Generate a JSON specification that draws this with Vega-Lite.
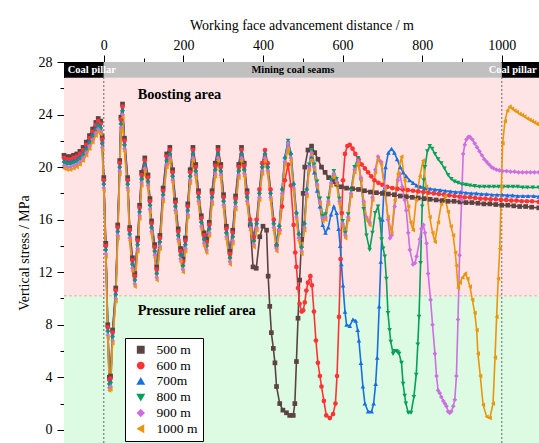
{
"$schema":"https://vega.github.io/schema/vega-lite/v6.json",
"width":475,"height":381,
"autosize":{"type":"none"},
"padding":{"left":64,"top":62,"right":0,"bottom":0},
"background":"white",
"config":{"view":{"stroke":null},"font":"Liberation Serif"},
"datasets":{"series":[
{"s":500,"x":-100,"y":20.9},{"s":500,"x":-92,"y":20.8},{"s":500,"x":-84,"y":20.8},{"s":500,"x":-76,"y":20.9},{"s":500,"x":-68,"y":21.0},{"s":500,"x":-60,"y":21.2},{"s":500,"x":-52,"y":21.5},{"s":500,"x":-44,"y":21.9},{"s":500,"x":-36,"y":22.4},{"s":500,"x":-28,"y":22.9},{"s":500,"x":-20,"y":23.4},{"s":500,"x":-14,"y":23.7},{"s":500,"x":-8,"y":23.5},{"s":500,"x":-4,"y":22.3},{"s":500,"x":0,"y":19.2},{"s":500,"x":5,"y":14.2},{"s":500,"x":10,"y":8.0},{"s":500,"x":14,"y":4.0},{"s":500,"x":17,"y":4.1},{"s":500,"x":22,"y":7.6},{"s":500,"x":30,"y":10.8},{"s":500,"x":35,"y":15.6},{"s":500,"x":40,"y":20.5},{"s":500,"x":43,"y":23.8},{"s":500,"x":47,"y":24.8},{"s":500,"x":52,"y":22.2},{"s":500,"x":60,"y":19.2},{"s":500,"x":65,"y":15.4},{"s":500,"x":72,"y":13.1},{"s":500,"x":78,"y":11.9},{"s":500,"x":85,"y":14.6},{"s":500,"x":90,"y":17.1},{"s":500,"x":95,"y":19.6},{"s":500,"x":103,"y":20.7},{"s":500,"x":111,"y":19.4},{"s":500,"x":116,"y":17.6},{"s":500,"x":120,"y":15.9},{"s":500,"x":128,"y":14.1},{"s":500,"x":133,"y":12.4},{"s":500,"x":141,"y":14.8},{"s":500,"x":149,"y":18.4},{"s":500,"x":158,"y":21.0},{"s":500,"x":166,"y":21.5},{"s":500,"x":173,"y":19.8},{"s":500,"x":180,"y":17.5},{"s":500,"x":187,"y":15.3},{"s":500,"x":193,"y":13.8},{"s":500,"x":199,"y":13.0},{"s":500,"x":205,"y":14.6},{"s":500,"x":211,"y":17.2},{"s":500,"x":217,"y":19.8},{"s":500,"x":224,"y":21.5},{"s":500,"x":231,"y":20.2},{"s":500,"x":238,"y":18.2},{"s":500,"x":245,"y":16.3},{"s":500,"x":252,"y":15.0},{"s":500,"x":258,"y":14.5},{"s":500,"x":265,"y":15.8},{"s":500,"x":272,"y":18.2},{"s":500,"x":280,"y":20.3},{"s":500,"x":287,"y":21.5},{"s":500,"x":294,"y":20.2},{"s":500,"x":301,"y":17.9},{"s":500,"x":308,"y":15.5},{"s":500,"x":317,"y":13.6},{"s":500,"x":324,"y":15.2},{"s":500,"x":331,"y":17.8},{"s":500,"x":339,"y":20.2},{"s":500,"x":346,"y":21.5},{"s":500,"x":353,"y":20.3},{"s":500,"x":360,"y":18.2},{"s":500,"x":368,"y":15.6},{"s":500,"x":375,"y":12.4},{"s":500,"x":383,"y":12.3},{"s":500,"x":392,"y":14.7},{"s":500,"x":400,"y":15.5},{"s":500,"x":409,"y":15.2},{"s":500,"x":413,"y":11.7},{"s":500,"x":417,"y":9.4},{"s":500,"x":421,"y":7.4},{"s":500,"x":426,"y":6.2},{"s":500,"x":430,"y":5.1},{"s":500,"x":434,"y":3.3},{"s":500,"x":442,"y":2.0},{"s":500,"x":450,"y":1.5},{"s":500,"x":459,"y":1.3},{"s":500,"x":467,"y":1.1},{"s":500,"x":476,"y":1.1},{"s":500,"x":480,"y":2.0},{"s":500,"x":484,"y":5.2},{"s":500,"x":488,"y":8.5},{"s":500,"x":492,"y":11.4},{"s":500,"x":497,"y":14.5},{"s":500,"x":501,"y":18.0},{"s":500,"x":505,"y":20.0},{"s":500,"x":513,"y":21.3},{"s":500,"x":522,"y":21.6},{"s":500,"x":530,"y":21.1},{"s":500,"x":538,"y":20.6},{"s":500,"x":547,"y":20.0},{"s":500,"x":556,"y":19.6},{"s":500,"x":565,"y":19.2},{"s":500,"x":575,"y":18.9},{"s":500,"x":585,"y":18.7},{"s":500,"x":597,"y":18.5},{"s":500,"x":610,"y":18.4},{"s":500,"x":625,"y":18.35},{"s":500,"x":640,"y":18.3},{"s":500,"x":655,"y":18.2},{"s":500,"x":670,"y":18.1},{"s":500,"x":685,"y":18.05},{"s":500,"x":700,"y":18.0},{"s":500,"x":715,"y":17.95},{"s":500,"x":730,"y":17.9},{"s":500,"x":745,"y":17.8},{"s":500,"x":760,"y":17.75},{"s":500,"x":775,"y":17.7},{"s":500,"x":790,"y":17.65},{"s":500,"x":805,"y":17.6},{"s":500,"x":820,"y":17.55},{"s":500,"x":835,"y":17.5},{"s":500,"x":850,"y":17.45},{"s":500,"x":865,"y":17.4},{"s":500,"x":880,"y":17.4},{"s":500,"x":895,"y":17.35},{"s":500,"x":910,"y":17.3},{"s":500,"x":925,"y":17.3},{"s":500,"x":940,"y":17.25},{"s":500,"x":955,"y":17.2},{"s":500,"x":970,"y":17.2},{"s":500,"x":985,"y":17.15},{"s":500,"x":1000,"y":17.1},{"s":500,"x":1015,"y":17.1},{"s":500,"x":1030,"y":17.05},{"s":500,"x":1045,"y":17.0},{"s":500,"x":1060,"y":17.0},{"s":500,"x":1075,"y":16.95},{"s":500,"x":1093,"y":16.9},
{"s":600,"x":-100,"y":20.7},{"s":600,"x":-92,"y":20.6},{"s":600,"x":-84,"y":20.6},{"s":600,"x":-76,"y":20.7},{"s":600,"x":-68,"y":20.8},{"s":600,"x":-60,"y":21.0},{"s":600,"x":-52,"y":21.3},{"s":600,"x":-44,"y":21.7},{"s":600,"x":-36,"y":22.2},{"s":600,"x":-28,"y":22.7},{"s":600,"x":-20,"y":23.2},{"s":600,"x":-14,"y":23.5},{"s":600,"x":-8,"y":23.3},{"s":600,"x":-4,"y":22.1},{"s":600,"x":0,"y":19.0},{"s":600,"x":5,"y":14.0},{"s":600,"x":10,"y":7.8},{"s":600,"x":14,"y":3.8},{"s":600,"x":17,"y":3.9},{"s":600,"x":22,"y":7.4},{"s":600,"x":30,"y":10.6},{"s":600,"x":35,"y":15.4},{"s":600,"x":40,"y":20.3},{"s":600,"x":43,"y":23.6},{"s":600,"x":47,"y":24.6},{"s":600,"x":52,"y":22.0},{"s":600,"x":60,"y":19.0},{"s":600,"x":65,"y":15.2},{"s":600,"x":72,"y":12.9},{"s":600,"x":78,"y":11.7},{"s":600,"x":85,"y":14.4},{"s":600,"x":90,"y":16.9},{"s":600,"x":95,"y":19.4},{"s":600,"x":103,"y":20.5},{"s":600,"x":111,"y":19.2},{"s":600,"x":116,"y":17.4},{"s":600,"x":120,"y":15.7},{"s":600,"x":128,"y":13.9},{"s":600,"x":133,"y":12.2},{"s":600,"x":141,"y":14.6},{"s":600,"x":149,"y":18.2},{"s":600,"x":158,"y":20.8},{"s":600,"x":166,"y":21.3},{"s":600,"x":173,"y":19.6},{"s":600,"x":180,"y":17.3},{"s":600,"x":187,"y":15.1},{"s":600,"x":193,"y":13.6},{"s":600,"x":199,"y":12.8},{"s":600,"x":205,"y":14.4},{"s":600,"x":211,"y":17.0},{"s":600,"x":217,"y":19.6},{"s":600,"x":224,"y":21.3},{"s":600,"x":231,"y":20.0},{"s":600,"x":238,"y":18.0},{"s":600,"x":245,"y":16.1},{"s":600,"x":252,"y":14.8},{"s":600,"x":258,"y":14.3},{"s":600,"x":265,"y":15.6},{"s":600,"x":272,"y":18.0},{"s":600,"x":280,"y":20.1},{"s":600,"x":287,"y":21.3},{"s":600,"x":294,"y":20.0},{"s":600,"x":301,"y":17.7},{"s":600,"x":308,"y":15.3},{"s":600,"x":317,"y":13.4},{"s":600,"x":324,"y":15.0},{"s":600,"x":331,"y":17.6},{"s":600,"x":339,"y":20.0},{"s":600,"x":346,"y":21.3},{"s":600,"x":353,"y":20.1},{"s":600,"x":360,"y":18.0},{"s":600,"x":368,"y":16.0},{"s":600,"x":377,"y":14.7},{"s":600,"x":384,"y":16.0},{"s":600,"x":391,"y":18.3},{"s":600,"x":398,"y":20.3},{"s":600,"x":405,"y":21.3},{"s":600,"x":412,"y":20.3},{"s":600,"x":419,"y":18.3},{"s":600,"x":427,"y":16.0},{"s":600,"x":434,"y":14.0},{"s":600,"x":441,"y":15.2},{"s":600,"x":448,"y":17.0},{"s":600,"x":455,"y":19.0},{"s":600,"x":463,"y":20.2},{"s":600,"x":470,"y":18.6},{"s":600,"x":477,"y":15.6},{"s":600,"x":481,"y":13.5},{"s":600,"x":484,"y":12.4},{"s":600,"x":488,"y":10.8},{"s":600,"x":492,"y":9.6},{"s":600,"x":497,"y":9.0},{"s":600,"x":501,"y":9.1},{"s":600,"x":505,"y":9.7},{"s":600,"x":509,"y":10.6},{"s":600,"x":513,"y":11.2},{"s":600,"x":519,"y":11.7},{"s":600,"x":523,"y":11.0},{"s":600,"x":528,"y":9.0},{"s":600,"x":533,"y":6.8},{"s":600,"x":538,"y":5.1},{"s":600,"x":543,"y":4.1},{"s":600,"x":547,"y":3.3},{"s":600,"x":553,"y":2.2},{"s":600,"x":559,"y":1.1},{"s":600,"x":568,"y":0.9},{"s":600,"x":576,"y":1.2},{"s":600,"x":582,"y":2.0},{"s":600,"x":586,"y":4.1},{"s":600,"x":591,"y":8.6},{"s":600,"x":595,"y":13.0},{"s":600,"x":598,"y":16.5},{"s":600,"x":601,"y":19.0},{"s":600,"x":606,"y":21.0},{"s":600,"x":612,"y":21.6},{"s":600,"x":618,"y":21.7},{"s":600,"x":625,"y":21.4},{"s":600,"x":632,"y":21.0},{"s":600,"x":640,"y":20.6},{"s":600,"x":648,"y":20.2},{"s":600,"x":656,"y":19.9},{"s":600,"x":664,"y":19.6},{"s":600,"x":672,"y":19.3},{"s":600,"x":680,"y":19.0},{"s":600,"x":690,"y":18.8},{"s":600,"x":700,"y":18.65},{"s":600,"x":712,"y":18.5},{"s":600,"x":725,"y":18.4},{"s":600,"x":738,"y":18.35},{"s":600,"x":751,"y":18.3},{"s":600,"x":764,"y":18.25},{"s":600,"x":777,"y":18.2},{"s":600,"x":790,"y":18.15},{"s":600,"x":803,"y":18.1},{"s":600,"x":816,"y":18.05},{"s":600,"x":829,"y":18.0},{"s":600,"x":842,"y":17.95},{"s":600,"x":855,"y":17.9},{"s":600,"x":868,"y":17.85},{"s":600,"x":881,"y":17.8},{"s":600,"x":894,"y":17.75},{"s":600,"x":907,"y":17.7},{"s":600,"x":920,"y":17.7},{"s":600,"x":933,"y":17.65},{"s":600,"x":946,"y":17.6},{"s":600,"x":959,"y":17.6},{"s":600,"x":972,"y":17.55},{"s":600,"x":985,"y":17.55},{"s":600,"x":998,"y":17.5},{"s":600,"x":1011,"y":17.5},{"s":600,"x":1024,"y":17.45},{"s":600,"x":1037,"y":17.45},{"s":600,"x":1050,"y":17.4},{"s":600,"x":1063,"y":17.4},{"s":600,"x":1076,"y":17.4},{"s":600,"x":1093,"y":17.35},
{"s":700,"x":-100,"y":20.5},{"s":700,"x":-92,"y":20.4},{"s":700,"x":-84,"y":20.4},{"s":700,"x":-76,"y":20.5},{"s":700,"x":-68,"y":20.6},{"s":700,"x":-60,"y":20.8},{"s":700,"x":-52,"y":21.1},{"s":700,"x":-44,"y":21.5},{"s":700,"x":-36,"y":22.0},{"s":700,"x":-28,"y":22.5},{"s":700,"x":-20,"y":23.0},{"s":700,"x":-14,"y":23.3},{"s":700,"x":-8,"y":23.1},{"s":700,"x":-4,"y":21.9},{"s":700,"x":0,"y":18.8},{"s":700,"x":5,"y":13.8},{"s":700,"x":10,"y":7.6},{"s":700,"x":14,"y":3.6},{"s":700,"x":17,"y":3.7},{"s":700,"x":22,"y":7.2},{"s":700,"x":30,"y":10.4},{"s":700,"x":35,"y":15.2},{"s":700,"x":40,"y":20.1},{"s":700,"x":43,"y":23.4},{"s":700,"x":47,"y":24.4},{"s":700,"x":52,"y":21.8},{"s":700,"x":60,"y":18.8},{"s":700,"x":65,"y":15.0},{"s":700,"x":72,"y":12.7},{"s":700,"x":78,"y":11.5},{"s":700,"x":85,"y":14.2},{"s":700,"x":90,"y":16.7},{"s":700,"x":95,"y":19.2},{"s":700,"x":103,"y":20.3},{"s":700,"x":111,"y":19.0},{"s":700,"x":116,"y":17.2},{"s":700,"x":120,"y":15.5},{"s":700,"x":128,"y":13.7},{"s":700,"x":133,"y":12.0},{"s":700,"x":141,"y":14.4},{"s":700,"x":149,"y":18.0},{"s":700,"x":158,"y":20.6},{"s":700,"x":166,"y":21.1},{"s":700,"x":173,"y":19.4},{"s":700,"x":180,"y":17.1},{"s":700,"x":187,"y":14.9},{"s":700,"x":193,"y":13.4},{"s":700,"x":199,"y":12.6},{"s":700,"x":205,"y":14.2},{"s":700,"x":211,"y":16.8},{"s":700,"x":217,"y":19.4},{"s":700,"x":224,"y":21.1},{"s":700,"x":231,"y":19.8},{"s":700,"x":238,"y":17.8},{"s":700,"x":245,"y":15.9},{"s":700,"x":252,"y":14.6},{"s":700,"x":258,"y":14.1},{"s":700,"x":265,"y":15.4},{"s":700,"x":272,"y":17.8},{"s":700,"x":280,"y":19.9},{"s":700,"x":287,"y":21.1},{"s":700,"x":294,"y":19.8},{"s":700,"x":301,"y":17.5},{"s":700,"x":308,"y":15.1},{"s":700,"x":317,"y":13.2},{"s":700,"x":324,"y":14.8},{"s":700,"x":331,"y":17.4},{"s":700,"x":339,"y":19.8},{"s":700,"x":346,"y":21.1},{"s":700,"x":353,"y":19.9},{"s":700,"x":360,"y":17.8},{"s":700,"x":368,"y":15.8},{"s":700,"x":377,"y":14.5},{"s":700,"x":384,"y":15.8},{"s":700,"x":391,"y":18.1},{"s":700,"x":398,"y":20.1},{"s":700,"x":405,"y":21.1},{"s":700,"x":412,"y":20.1},{"s":700,"x":419,"y":18.1},{"s":700,"x":427,"y":15.8},{"s":700,"x":434,"y":14.2},{"s":700,"x":441,"y":15.6},{"s":700,"x":448,"y":18.4},{"s":700,"x":455,"y":20.8},{"s":700,"x":463,"y":22.0},{"s":700,"x":470,"y":21.1},{"s":700,"x":477,"y":18.8},{"s":700,"x":484,"y":16.6},{"s":700,"x":490,"y":15.0},{"s":700,"x":497,"y":14.0},{"s":700,"x":504,"y":15.8},{"s":700,"x":510,"y":18.4},{"s":700,"x":516,"y":20.2},{"s":700,"x":522,"y":20.8},{"s":700,"x":529,"y":19.6},{"s":700,"x":536,"y":18.2},{"s":700,"x":543,"y":17.0},{"s":700,"x":550,"y":15.6},{"s":700,"x":557,"y":15.0},{"s":700,"x":564,"y":15.4},{"s":700,"x":571,"y":16.4},{"s":700,"x":578,"y":17.0},{"s":700,"x":585,"y":16.5},{"s":700,"x":590,"y":15.3},{"s":700,"x":594,"y":14.0},{"s":700,"x":597,"y":12.6},{"s":700,"x":601,"y":11.0},{"s":700,"x":606,"y":9.0},{"s":700,"x":610,"y":8.0},{"s":700,"x":618,"y":7.9},{"s":700,"x":626,"y":8.4},{"s":700,"x":633,"y":8.3},{"s":700,"x":638,"y":7.6},{"s":700,"x":641,"y":6.8},{"s":700,"x":646,"y":5.1},{"s":700,"x":651,"y":3.3},{"s":700,"x":656,"y":2.0},{"s":700,"x":664,"y":1.4},{"s":700,"x":673,"y":1.4},{"s":700,"x":678,"y":2.0},{"s":700,"x":683,"y":3.5},{"s":700,"x":687,"y":5.5},{"s":700,"x":692,"y":9.4},{"s":700,"x":696,"y":12.8},{"s":700,"x":700,"y":16.0},{"s":700,"x":704,"y":18.3},{"s":700,"x":708,"y":20.0},{"s":700,"x":715,"y":21.1},{"s":700,"x":723,"y":21.4},{"s":700,"x":730,"y":21.1},{"s":700,"x":737,"y":20.6},{"s":700,"x":745,"y":20.0},{"s":700,"x":752,"y":19.6},{"s":700,"x":760,"y":19.3},{"s":700,"x":768,"y":19.0},{"s":700,"x":777,"y":18.8},{"s":700,"x":786,"y":18.6},{"s":700,"x":796,"y":18.5},{"s":700,"x":808,"y":18.4},{"s":700,"x":820,"y":18.35},{"s":700,"x":832,"y":18.3},{"s":700,"x":845,"y":18.25},{"s":700,"x":858,"y":18.2},{"s":700,"x":871,"y":18.15},{"s":700,"x":884,"y":18.1},{"s":700,"x":897,"y":18.1},{"s":700,"x":910,"y":18.05},{"s":700,"x":923,"y":18.0},{"s":700,"x":936,"y":18.0},{"s":700,"x":949,"y":17.95},{"s":700,"x":962,"y":17.95},{"s":700,"x":975,"y":17.9},{"s":700,"x":988,"y":17.9},{"s":700,"x":1001,"y":17.9},{"s":700,"x":1014,"y":17.85},{"s":700,"x":1027,"y":17.85},{"s":700,"x":1040,"y":17.8},{"s":700,"x":1053,"y":17.8},{"s":700,"x":1066,"y":17.8},{"s":700,"x":1080,"y":17.8},{"s":700,"x":1093,"y":17.75},
{"s":800,"x":-100,"y":20.3},{"s":800,"x":-92,"y":20.2},{"s":800,"x":-84,"y":20.2},{"s":800,"x":-76,"y":20.3},{"s":800,"x":-68,"y":20.4},{"s":800,"x":-60,"y":20.6},{"s":800,"x":-52,"y":20.9},{"s":800,"x":-44,"y":21.3},{"s":800,"x":-36,"y":21.8},{"s":800,"x":-28,"y":22.3},{"s":800,"x":-20,"y":22.8},{"s":800,"x":-14,"y":23.1},{"s":800,"x":-8,"y":22.9},{"s":800,"x":-4,"y":21.7},{"s":800,"x":0,"y":18.6},{"s":800,"x":5,"y":13.6},{"s":800,"x":10,"y":7.4},{"s":800,"x":14,"y":3.4},{"s":800,"x":17,"y":3.5},{"s":800,"x":22,"y":7.0},{"s":800,"x":30,"y":10.2},{"s":800,"x":35,"y":15.0},{"s":800,"x":40,"y":19.9},{"s":800,"x":43,"y":23.2},{"s":800,"x":47,"y":24.2},{"s":800,"x":52,"y":21.6},{"s":800,"x":60,"y":18.6},{"s":800,"x":65,"y":14.8},{"s":800,"x":72,"y":12.5},{"s":800,"x":78,"y":11.3},{"s":800,"x":85,"y":14.0},{"s":800,"x":90,"y":16.5},{"s":800,"x":95,"y":19.0},{"s":800,"x":103,"y":20.1},{"s":800,"x":111,"y":18.8},{"s":800,"x":116,"y":17.0},{"s":800,"x":120,"y":15.3},{"s":800,"x":128,"y":13.5},{"s":800,"x":133,"y":11.8},{"s":800,"x":141,"y":14.2},{"s":800,"x":149,"y":17.8},{"s":800,"x":158,"y":20.4},{"s":800,"x":166,"y":20.9},{"s":800,"x":173,"y":19.2},{"s":800,"x":180,"y":16.9},{"s":800,"x":187,"y":14.7},{"s":800,"x":193,"y":13.2},{"s":800,"x":199,"y":12.4},{"s":800,"x":205,"y":14.0},{"s":800,"x":211,"y":16.6},{"s":800,"x":217,"y":19.2},{"s":800,"x":224,"y":20.9},{"s":800,"x":231,"y":19.6},{"s":800,"x":238,"y":17.6},{"s":800,"x":245,"y":15.7},{"s":800,"x":252,"y":14.4},{"s":800,"x":258,"y":13.9},{"s":800,"x":265,"y":15.2},{"s":800,"x":272,"y":17.6},{"s":800,"x":280,"y":19.7},{"s":800,"x":287,"y":20.9},{"s":800,"x":294,"y":19.6},{"s":800,"x":301,"y":17.3},{"s":800,"x":308,"y":14.9},{"s":800,"x":317,"y":13.0},{"s":800,"x":324,"y":14.6},{"s":800,"x":331,"y":17.2},{"s":800,"x":339,"y":19.6},{"s":800,"x":346,"y":20.9},{"s":800,"x":353,"y":19.7},{"s":800,"x":360,"y":17.6},{"s":800,"x":368,"y":15.6},{"s":800,"x":377,"y":14.3},{"s":800,"x":384,"y":15.6},{"s":800,"x":391,"y":17.9},{"s":800,"x":398,"y":19.9},{"s":800,"x":405,"y":20.9},{"s":800,"x":412,"y":19.9},{"s":800,"x":419,"y":17.9},{"s":800,"x":427,"y":15.6},{"s":800,"x":434,"y":14.0},{"s":800,"x":441,"y":15.4},{"s":800,"x":448,"y":18.2},{"s":800,"x":455,"y":20.6},{"s":800,"x":463,"y":22.0},{"s":800,"x":470,"y":20.9},{"s":800,"x":477,"y":18.6},{"s":800,"x":484,"y":16.4},{"s":800,"x":490,"y":14.8},{"s":800,"x":497,"y":13.8},{"s":800,"x":504,"y":15.6},{"s":800,"x":510,"y":18.2},{"s":800,"x":516,"y":20.2},{"s":800,"x":522,"y":21.3},{"s":800,"x":529,"y":20.2},{"s":800,"x":536,"y":18.9},{"s":800,"x":543,"y":17.6},{"s":800,"x":550,"y":16.3},{"s":800,"x":557,"y":16.4},{"s":800,"x":564,"y":17.6},{"s":800,"x":571,"y":19.0},{"s":800,"x":578,"y":19.7},{"s":800,"x":585,"y":19.1},{"s":800,"x":592,"y":17.6},{"s":800,"x":600,"y":15.9},{"s":800,"x":607,"y":15.0},{"s":800,"x":614,"y":16.4},{"s":800,"x":621,"y":18.2},{"s":800,"x":630,"y":20.0},{"s":800,"x":639,"y":20.7},{"s":800,"x":646,"y":19.0},{"s":800,"x":653,"y":16.8},{"s":800,"x":660,"y":14.8},{"s":800,"x":668,"y":13.7},{"s":800,"x":675,"y":15.0},{"s":800,"x":682,"y":16.5},{"s":800,"x":689,"y":17.0},{"s":800,"x":694,"y":16.0},{"s":800,"x":698,"y":14.5},{"s":800,"x":702,"y":13.8},{"s":800,"x":706,"y":13.2},{"s":800,"x":710,"y":11.5},{"s":800,"x":714,"y":8.9},{"s":800,"x":718,"y":7.6},{"s":800,"x":721,"y":6.7},{"s":800,"x":727,"y":5.8},{"s":800,"x":731,"y":6.0},{"s":800,"x":735,"y":6.0},{"s":800,"x":739,"y":5.9},{"s":800,"x":742,"y":5.8},{"s":800,"x":748,"y":5.1},{"s":800,"x":752,"y":3.5},{"s":800,"x":756,"y":2.6},{"s":800,"x":759,"y":2.0},{"s":800,"x":765,"y":1.3},{"s":800,"x":772,"y":1.3},{"s":800,"x":779,"y":2.5},{"s":800,"x":785,"y":4.2},{"s":800,"x":789,"y":6.5},{"s":800,"x":792,"y":8.6},{"s":800,"x":796,"y":12.7},{"s":800,"x":800,"y":17.0},{"s":800,"x":804,"y":19.0},{"s":800,"x":807,"y":20.0},{"s":800,"x":813,"y":21.2},{"s":800,"x":819,"y":21.6},{"s":800,"x":825,"y":21.4},{"s":800,"x":832,"y":21.0},{"s":800,"x":840,"y":20.6},{"s":800,"x":848,"y":20.3},{"s":800,"x":856,"y":19.9},{"s":800,"x":865,"y":19.4},{"s":800,"x":873,"y":19.1},{"s":800,"x":881,"y":18.9},{"s":800,"x":890,"y":18.8},{"s":800,"x":900,"y":18.7},{"s":800,"x":910,"y":18.65},{"s":800,"x":920,"y":18.6},{"s":800,"x":932,"y":18.55},{"s":800,"x":944,"y":18.5},{"s":800,"x":956,"y":18.5},{"s":800,"x":968,"y":18.5},{"s":800,"x":980,"y":18.5},{"s":800,"x":992,"y":18.5},{"s":800,"x":1004,"y":18.5},{"s":800,"x":1016,"y":18.5},{"s":800,"x":1028,"y":18.5},{"s":800,"x":1040,"y":18.5},{"s":800,"x":1052,"y":18.45},{"s":800,"x":1064,"y":18.45},{"s":800,"x":1078,"y":18.45},{"s":800,"x":1093,"y":18.45},
{"s":900,"x":-100,"y":20.1},{"s":900,"x":-92,"y":20.0},{"s":900,"x":-84,"y":20.0},{"s":900,"x":-76,"y":20.1},{"s":900,"x":-68,"y":20.2},{"s":900,"x":-60,"y":20.4},{"s":900,"x":-52,"y":20.7},{"s":900,"x":-44,"y":21.1},{"s":900,"x":-36,"y":21.6},{"s":900,"x":-28,"y":22.1},{"s":900,"x":-20,"y":22.6},{"s":900,"x":-14,"y":22.9},{"s":900,"x":-8,"y":22.7},{"s":900,"x":-4,"y":21.5},{"s":900,"x":0,"y":18.4},{"s":900,"x":5,"y":13.4},{"s":900,"x":10,"y":7.2},{"s":900,"x":14,"y":3.2},{"s":900,"x":17,"y":3.3},{"s":900,"x":22,"y":6.8},{"s":900,"x":30,"y":10.0},{"s":900,"x":35,"y":14.8},{"s":900,"x":40,"y":19.7},{"s":900,"x":43,"y":23.0},{"s":900,"x":47,"y":24.0},{"s":900,"x":52,"y":21.4},{"s":900,"x":60,"y":18.4},{"s":900,"x":65,"y":14.6},{"s":900,"x":72,"y":12.3},{"s":900,"x":78,"y":11.1},{"s":900,"x":85,"y":13.8},{"s":900,"x":90,"y":16.3},{"s":900,"x":95,"y":18.8},{"s":900,"x":103,"y":19.9},{"s":900,"x":111,"y":18.6},{"s":900,"x":116,"y":16.8},{"s":900,"x":120,"y":15.1},{"s":900,"x":128,"y":13.3},{"s":900,"x":133,"y":11.6},{"s":900,"x":141,"y":14.0},{"s":900,"x":149,"y":17.6},{"s":900,"x":158,"y":20.2},{"s":900,"x":166,"y":20.7},{"s":900,"x":173,"y":19.0},{"s":900,"x":180,"y":16.7},{"s":900,"x":187,"y":14.5},{"s":900,"x":193,"y":13.0},{"s":900,"x":199,"y":12.2},{"s":900,"x":205,"y":13.8},{"s":900,"x":211,"y":16.4},{"s":900,"x":217,"y":19.0},{"s":900,"x":224,"y":20.7},{"s":900,"x":231,"y":19.4},{"s":900,"x":238,"y":17.4},{"s":900,"x":245,"y":15.5},{"s":900,"x":252,"y":14.2},{"s":900,"x":258,"y":13.7},{"s":900,"x":265,"y":15.0},{"s":900,"x":272,"y":17.4},{"s":900,"x":280,"y":19.5},{"s":900,"x":287,"y":20.7},{"s":900,"x":294,"y":19.4},{"s":900,"x":301,"y":17.1},{"s":900,"x":308,"y":14.7},{"s":900,"x":317,"y":12.8},{"s":900,"x":324,"y":14.4},{"s":900,"x":331,"y":17.0},{"s":900,"x":339,"y":19.4},{"s":900,"x":346,"y":20.7},{"s":900,"x":353,"y":19.5},{"s":900,"x":360,"y":17.4},{"s":900,"x":368,"y":15.4},{"s":900,"x":377,"y":14.1},{"s":900,"x":384,"y":15.4},{"s":900,"x":391,"y":17.7},{"s":900,"x":398,"y":19.7},{"s":900,"x":405,"y":20.7},{"s":900,"x":412,"y":19.7},{"s":900,"x":419,"y":17.7},{"s":900,"x":427,"y":15.4},{"s":900,"x":434,"y":13.8},{"s":900,"x":441,"y":15.2},{"s":900,"x":448,"y":18.0},{"s":900,"x":455,"y":20.4},{"s":900,"x":463,"y":21.8},{"s":900,"x":470,"y":20.7},{"s":900,"x":477,"y":18.4},{"s":900,"x":484,"y":16.2},{"s":900,"x":490,"y":14.6},{"s":900,"x":497,"y":13.6},{"s":900,"x":504,"y":15.4},{"s":900,"x":510,"y":18.0},{"s":900,"x":516,"y":20.0},{"s":900,"x":522,"y":21.1},{"s":900,"x":529,"y":20.0},{"s":900,"x":536,"y":18.7},{"s":900,"x":543,"y":17.4},{"s":900,"x":550,"y":16.1},{"s":900,"x":557,"y":16.2},{"s":900,"x":564,"y":17.4},{"s":900,"x":571,"y":18.8},{"s":900,"x":578,"y":19.5},{"s":900,"x":585,"y":18.9},{"s":900,"x":592,"y":17.4},{"s":900,"x":600,"y":15.7},{"s":900,"x":607,"y":14.8},{"s":900,"x":614,"y":16.2},{"s":900,"x":621,"y":18.0},{"s":900,"x":630,"y":19.8},{"s":900,"x":639,"y":20.5},{"s":900,"x":646,"y":19.2},{"s":900,"x":653,"y":17.4},{"s":900,"x":660,"y":16.2},{"s":900,"x":668,"y":15.8},{"s":900,"x":675,"y":17.7},{"s":900,"x":682,"y":19.8},{"s":900,"x":689,"y":20.8},{"s":900,"x":697,"y":20.4},{"s":900,"x":706,"y":18.5},{"s":900,"x":714,"y":16.0},{"s":900,"x":719,"y":14.6},{"s":900,"x":723,"y":14.8},{"s":900,"x":731,"y":17.0},{"s":900,"x":739,"y":19.0},{"s":900,"x":744,"y":19.5},{"s":900,"x":750,"y":18.5},{"s":900,"x":756,"y":17.5},{"s":900,"x":760,"y":16.7},{"s":900,"x":765,"y":15.0},{"s":900,"x":769,"y":13.7},{"s":900,"x":777,"y":12.6},{"s":900,"x":782,"y":12.7},{"s":900,"x":786,"y":13.2},{"s":900,"x":794,"y":14.5},{"s":900,"x":798,"y":15.3},{"s":900,"x":803,"y":15.6},{"s":900,"x":807,"y":15.0},{"s":900,"x":811,"y":14.2},{"s":900,"x":815,"y":11.9},{"s":900,"x":821,"y":9.9},{"s":900,"x":826,"y":8.0},{"s":900,"x":832,"y":5.8},{"s":900,"x":836,"y":4.1},{"s":900,"x":840,"y":3.0},{"s":900,"x":844,"y":2.8},{"s":900,"x":848,"y":2.5},{"s":900,"x":853,"y":2.2},{"s":900,"x":857,"y":2.0},{"s":900,"x":861,"y":1.8},{"s":900,"x":865,"y":1.4},{"s":900,"x":869,"y":1.3},{"s":900,"x":873,"y":1.4},{"s":900,"x":878,"y":1.8},{"s":900,"x":882,"y":2.3},{"s":900,"x":886,"y":4.1},{"s":900,"x":890,"y":8.4},{"s":900,"x":894,"y":13.3},{"s":900,"x":899,"y":17.5},{"s":900,"x":903,"y":21.0},{"s":900,"x":907,"y":21.7},{"s":900,"x":911,"y":22.1},{"s":900,"x":916,"y":22.3},{"s":900,"x":920,"y":22.3},{"s":900,"x":926,"y":22.1},{"s":900,"x":932,"y":21.8},{"s":900,"x":938,"y":21.5},{"s":900,"x":944,"y":21.2},{"s":900,"x":950,"y":20.9},{"s":900,"x":956,"y":20.6},{"s":900,"x":962,"y":20.4},{"s":900,"x":968,"y":20.2},{"s":900,"x":974,"y":20.0},{"s":900,"x":980,"y":19.9},{"s":900,"x":987,"y":19.8},{"s":900,"x":994,"y":19.75},{"s":900,"x":1002,"y":19.7},{"s":900,"x":1012,"y":19.7},{"s":900,"x":1022,"y":19.65},{"s":900,"x":1032,"y":19.65},{"s":900,"x":1042,"y":19.6},{"s":900,"x":1052,"y":19.6},{"s":900,"x":1062,"y":19.6},{"s":900,"x":1072,"y":19.6},{"s":900,"x":1082,"y":19.6},{"s":900,"x":1093,"y":19.6},
{"s":1000,"x":-100,"y":19.9},{"s":1000,"x":-92,"y":19.8},{"s":1000,"x":-84,"y":19.8},{"s":1000,"x":-76,"y":19.9},{"s":1000,"x":-68,"y":20.0},{"s":1000,"x":-60,"y":20.2},{"s":1000,"x":-52,"y":20.5},{"s":1000,"x":-44,"y":20.9},{"s":1000,"x":-36,"y":21.4},{"s":1000,"x":-28,"y":21.9},{"s":1000,"x":-20,"y":22.4},{"s":1000,"x":-14,"y":22.7},{"s":1000,"x":-8,"y":22.5},{"s":1000,"x":-4,"y":21.3},{"s":1000,"x":0,"y":18.2},{"s":1000,"x":5,"y":13.2},{"s":1000,"x":10,"y":7.0},{"s":1000,"x":14,"y":3.0},{"s":1000,"x":17,"y":3.1},{"s":1000,"x":22,"y":6.6},{"s":1000,"x":30,"y":9.8},{"s":1000,"x":35,"y":14.6},{"s":1000,"x":40,"y":19.5},{"s":1000,"x":43,"y":22.8},{"s":1000,"x":47,"y":23.8},{"s":1000,"x":52,"y":21.2},{"s":1000,"x":60,"y":18.2},{"s":1000,"x":65,"y":14.4},{"s":1000,"x":72,"y":12.1},{"s":1000,"x":78,"y":10.9},{"s":1000,"x":85,"y":13.6},{"s":1000,"x":90,"y":16.1},{"s":1000,"x":95,"y":18.6},{"s":1000,"x":103,"y":19.7},{"s":1000,"x":111,"y":18.4},{"s":1000,"x":116,"y":16.6},{"s":1000,"x":120,"y":14.9},{"s":1000,"x":128,"y":13.1},{"s":1000,"x":133,"y":11.4},{"s":1000,"x":141,"y":13.8},{"s":1000,"x":149,"y":17.4},{"s":1000,"x":158,"y":20.0},{"s":1000,"x":166,"y":20.5},{"s":1000,"x":173,"y":18.8},{"s":1000,"x":180,"y":16.5},{"s":1000,"x":187,"y":14.3},{"s":1000,"x":193,"y":12.8},{"s":1000,"x":199,"y":12.0},{"s":1000,"x":205,"y":13.6},{"s":1000,"x":211,"y":16.2},{"s":1000,"x":217,"y":18.8},{"s":1000,"x":224,"y":20.5},{"s":1000,"x":231,"y":19.2},{"s":1000,"x":238,"y":17.2},{"s":1000,"x":245,"y":15.3},{"s":1000,"x":252,"y":14.0},{"s":1000,"x":258,"y":13.5},{"s":1000,"x":265,"y":14.8},{"s":1000,"x":272,"y":17.2},{"s":1000,"x":280,"y":19.3},{"s":1000,"x":287,"y":20.5},{"s":1000,"x":294,"y":19.2},{"s":1000,"x":301,"y":16.9},{"s":1000,"x":308,"y":14.5},{"s":1000,"x":317,"y":12.6},{"s":1000,"x":324,"y":14.2},{"s":1000,"x":331,"y":16.8},{"s":1000,"x":339,"y":19.2},{"s":1000,"x":346,"y":20.5},{"s":1000,"x":353,"y":19.3},{"s":1000,"x":360,"y":17.2},{"s":1000,"x":368,"y":15.2},{"s":1000,"x":377,"y":13.9},{"s":1000,"x":384,"y":15.2},{"s":1000,"x":391,"y":17.5},{"s":1000,"x":398,"y":19.5},{"s":1000,"x":405,"y":20.5},{"s":1000,"x":412,"y":19.5},{"s":1000,"x":419,"y":17.5},{"s":1000,"x":427,"y":15.2},{"s":1000,"x":434,"y":13.6},{"s":1000,"x":441,"y":15.0},{"s":1000,"x":448,"y":17.8},{"s":1000,"x":455,"y":20.2},{"s":1000,"x":463,"y":21.4},{"s":1000,"x":470,"y":20.5},{"s":1000,"x":477,"y":18.2},{"s":1000,"x":484,"y":16.0},{"s":1000,"x":490,"y":14.4},{"s":1000,"x":497,"y":13.4},{"s":1000,"x":504,"y":15.2},{"s":1000,"x":510,"y":17.8},{"s":1000,"x":516,"y":19.8},{"s":1000,"x":522,"y":20.9},{"s":1000,"x":529,"y":19.8},{"s":1000,"x":536,"y":18.5},{"s":1000,"x":543,"y":17.2},{"s":1000,"x":550,"y":15.9},{"s":1000,"x":557,"y":16.0},{"s":1000,"x":564,"y":17.2},{"s":1000,"x":571,"y":18.6},{"s":1000,"x":578,"y":19.3},{"s":1000,"x":585,"y":18.7},{"s":1000,"x":592,"y":17.2},{"s":1000,"x":600,"y":15.5},{"s":1000,"x":607,"y":14.6},{"s":1000,"x":614,"y":16.0},{"s":1000,"x":621,"y":17.8},{"s":1000,"x":630,"y":19.6},{"s":1000,"x":639,"y":20.3},{"s":1000,"x":646,"y":19.0},{"s":1000,"x":653,"y":17.2},{"s":1000,"x":660,"y":16.0},{"s":1000,"x":668,"y":15.6},{"s":1000,"x":675,"y":17.5},{"s":1000,"x":682,"y":19.6},{"s":1000,"x":689,"y":20.6},{"s":1000,"x":697,"y":20.2},{"s":1000,"x":706,"y":18.3},{"s":1000,"x":714,"y":16.2},{"s":1000,"x":723,"y":15.0},{"s":1000,"x":731,"y":17.5},{"s":1000,"x":739,"y":19.5},{"s":1000,"x":748,"y":20.8},{"s":1000,"x":756,"y":19.0},{"s":1000,"x":765,"y":17.0},{"s":1000,"x":771,"y":15.8},{"s":1000,"x":777,"y":15.2},{"s":1000,"x":785,"y":17.5},{"s":1000,"x":794,"y":19.3},{"s":1000,"x":802,"y":20.5},{"s":1000,"x":810,"y":18.5},{"s":1000,"x":819,"y":16.2},{"s":1000,"x":826,"y":15.0},{"s":1000,"x":832,"y":14.3},{"s":1000,"x":840,"y":15.8},{"s":1000,"x":848,"y":17.2},{"s":1000,"x":857,"y":17.8},{"s":1000,"x":865,"y":16.6},{"s":1000,"x":872,"y":15.5},{"s":1000,"x":878,"y":14.8},{"s":1000,"x":883,"y":13.5},{"s":1000,"x":886,"y":12.5},{"s":1000,"x":890,"y":10.8},{"s":1000,"x":895,"y":11.2},{"s":1000,"x":901,"y":11.6},{"s":1000,"x":908,"y":11.9},{"s":1000,"x":914,"y":11.5},{"s":1000,"x":920,"y":10.9},{"s":1000,"x":926,"y":9.9},{"s":1000,"x":932,"y":8.9},{"s":1000,"x":937,"y":7.6},{"s":1000,"x":940,"y":5.8},{"s":1000,"x":946,"y":4.1},{"s":1000,"x":953,"y":1.9},{"s":1000,"x":962,"y":1.0},{"s":1000,"x":970,"y":0.9},{"s":1000,"x":978,"y":2.0},{"s":1000,"x":983,"y":5.5},{"s":1000,"x":987,"y":8.6},{"s":1000,"x":991,"y":11.5},{"s":1000,"x":995,"y":13.8},{"s":1000,"x":999,"y":18.5},{"s":1000,"x":1002,"y":21.8},{"s":1000,"x":1008,"y":23.5},{"s":1000,"x":1014,"y":24.3},{"s":1000,"x":1020,"y":24.6},{"s":1000,"x":1026,"y":24.45},{"s":1000,"x":1032,"y":24.3},{"s":1000,"x":1038,"y":24.2},{"s":1000,"x":1045,"y":24.05},{"s":1000,"x":1051,"y":23.95},{"s":1000,"x":1057,"y":23.85},{"s":1000,"x":1064,"y":23.7},{"s":1000,"x":1070,"y":23.6},{"s":1000,"x":1076,"y":23.5},{"s":1000,"x":1082,"y":23.4},{"s":1000,"x":1088,"y":23.3},{"s":1000,"x":1093,"y":23.2}
]},
"layer":[
{"data":{"values":[
{"x":-100,"xe":1093.5,"y":10.2,"ye":26.8,"z":"boost"},
{"x":-100,"xe":1093.5,"y":-1,"ye":10.2,"z":"relief"},
{"x":-100,"xe":0,"y":26.8,"ye":28,"z":"pillar"},
{"x":0,"xe":1000,"y":26.8,"ye":28,"z":"seam"},
{"x":1000,"xe":1093.5,"y":26.8,"ye":28,"z":"pillar"}]},
"mark":{"type":"rect"},
"encoding":{
"x":{"field":"x","type":"quantitative","scale":{"domain":[-100,1093.5],"nice":false,"zero":false},
"axis":{"orient":"top","values":[0,200,400,600,800,1000],"format":"d","title":"Working face advancement distance / m","grid":false,"domainColor":"black","tickColor":"black","tickSize":7,"labelFont":"Liberation Serif","labelFontSize":14,"labelColor":"black","labelPadding":3,"titleFont":"Liberation Serif","titleFontSize":14,"titleFontWeight":"normal","titleColor":"black","titlePadding":6,"labelFlush":false}},
"x2":{"field":"xe"},
"y":{"field":"y","type":"quantitative","scale":{"domain":[-1,28],"nice":false,"zero":false},
"axis":{"orient":"left","values":[0,4,8,12,16,20,24,28],"format":"d","title":"Vertical stress / MPa","grid":false,"domainColor":"black","tickColor":"black","tickSize":7,"labelFont":"Liberation Serif","labelFontSize":14,"labelColor":"black","labelPadding":5,"titleFont":"Liberation Serif","titleFontSize":14,"titleFontWeight":"normal","titleColor":"black","titlePadding":7,"labelFlush":false}},
"y2":{"field":"ye"},
"fill":{"field":"z","type":"nominal","scale":{"domain":["boost","relief","pillar","seam"],"range":["#fee4e4","#dcfbe2","#000000","#c0c0c0"]},"legend":null}
}},
{"data":{"values":[{"x":0,"y":-1,"ye":26.8},{"x":1000,"y":-1,"ye":26.8}]},
"mark":{"type":"rule","color":"#666666","strokeDash":[2,2],"strokeWidth":1},
"encoding":{
"x":{"field":"x","type":"quantitative","scale":{"domain":[-100,1093.5],"nice":false,"zero":false},
"axis":{"orient":"top","values":[100,300,500,700,900],"labels":false,"domain":false,"title":null,"grid":false,"tickColor":"black","tickSize":4}},
"y":{"field":"y","type":"quantitative","scale":{"domain":[-1,28],"nice":false,"zero":false},
"axis":{"orient":"left","values":[2,6,10,14,18,22,26],"labels":false,"domain":false,"title":null,"grid":false,"tickColor":"black","tickSize":4}},
"y2":{"field":"ye"}
}},
{"data":{"values":[{"x":-100,"xe":1093.5,"y":10.2}]},
"mark":{"type":"rule","color":"#f3a99c","strokeDash":[3,2],"strokeWidth":1},
"encoding":{
"x":{"field":"x","type":"quantitative","scale":{"domain":[-100,1093.5],"nice":false,"zero":false},"axis":null},
"x2":{"field":"xe"},
"y":{"field":"y","type":"quantitative","scale":{"domain":[-1,28],"nice":false,"zero":false},"axis":null}
}},
{"data":{"name":"series"},
"mark":{"type":"line","strokeWidth":1.6},
"encoding":{
"x":{"field":"x","type":"quantitative","scale":{"domain":[-100,1093.5],"nice":false,"zero":false},"axis":null},
"y":{"field":"y","type":"quantitative","scale":{"domain":[-1,28],"nice":false,"zero":false},"axis":null},
"color":{"field":"s","type":"nominal","scale":{"domain":[500,600,700,800,900,1000],"range":["#5c4343","#ff3333","#1a6fdf","#05a05a","#cc6fe0","#e8960c"]},
"legend":{"orient":"none","legendX":61,"legendY":276,"title":null,"labelExpr":"datum.value == 700 ? '700m' : datum.value + ' m'","labelFont":"Liberation Serif","labelFontSize":13.5,"labelColor":"black","strokeColor":"black","fillColor":"white","padding":5,"rowPadding":0.8,"symbolSize":40,"labelOffset":9,"symbolOffset":4}}
}},
{"data":{"name":"series"},
"mark":{"type":"point","filled":true,"size":22,"opacity":1},
"encoding":{
"x":{"field":"x","type":"quantitative","scale":{"domain":[-100,1093.5],"nice":false,"zero":false},"axis":null},
"y":{"field":"y","type":"quantitative","scale":{"domain":[-1,28],"nice":false,"zero":false},"axis":null},
"color":{"field":"s","type":"nominal","scale":{"domain":[500,600,700,800,900,1000],"range":["#5c4343","#ff3333","#1a6fdf","#05a05a","#cc6fe0","#e8960c"]},
"legend":{"orient":"none","legendX":61,"legendY":276,"title":null,"labelExpr":"datum.value == 700 ? '700m' : datum.value + ' m'","labelFont":"Liberation Serif","labelFontSize":13.5,"labelColor":"black","strokeColor":"black","fillColor":"white","padding":5,"rowPadding":0.8,"symbolSize":40,"labelOffset":9,"symbolOffset":4}},
"shape":{"field":"s","type":"nominal","scale":{"domain":[500,600,700,800,900,1000],"range":["square","circle","triangle-up","triangle-down","diamond","triangle-left"]},
"legend":{"orient":"none","legendX":61,"legendY":276,"title":null,"labelExpr":"datum.value == 700 ? '700m' : datum.value + ' m'","labelFont":"Liberation Serif","labelFontSize":13.5,"labelColor":"black","strokeColor":"black","fillColor":"white","padding":5,"rowPadding":0.8,"symbolSize":40,"labelOffset":9,"symbolOffset":4}}
}},
{"data":{"values":[{"x":85,"y":25.2,"t":"Boosting area"},{"x":85,"y":8.75,"t":"Pressure relief area"}]},
"mark":{"type":"text","align":"left","baseline":"alphabetic","font":"Liberation Serif","fontWeight":"bold","fontSize":14.3,"color":"black"},
"encoding":{
"x":{"field":"x","type":"quantitative","scale":{"domain":[-100,1093.5],"nice":false,"zero":false},"axis":null},
"y":{"field":"y","type":"quantitative","scale":{"domain":[-1,28],"nice":false,"zero":false},"axis":null},
"text":{"field":"t"}
}},
{"data":{"values":[{"x":-90.5,"y":27.4,"t":"Coal pillar"},{"x":967,"y":27.4,"t":"Coal pillar"}]},
"mark":{"type":"text","align":"left","baseline":"middle","font":"Liberation Serif","fontWeight":"bold","fontSize":10.5,"color":"white"},
"encoding":{
"x":{"field":"x","type":"quantitative","scale":{"domain":[-100,1093.5],"nice":false,"zero":false},"axis":null},
"y":{"field":"y","type":"quantitative","scale":{"domain":[-1,28],"nice":false,"zero":false},"axis":null},
"text":{"field":"t"}
}},
{"data":{"values":[{"x":475,"y":27.4,"t":"Mining coal seams"}]},
"mark":{"type":"text","align":"center","baseline":"middle","font":"Liberation Serif","fontWeight":"bold","fontSize":10.5,"color":"black"},
"encoding":{
"x":{"field":"x","type":"quantitative","scale":{"domain":[-100,1093.5],"nice":false,"zero":false},"axis":null},
"y":{"field":"y","type":"quantitative","scale":{"domain":[-1,28],"nice":false,"zero":false},"axis":null},
"text":{"field":"t"}
}}
],
"resolve":{"axis":{"x":"independent","y":"independent"}}
}
